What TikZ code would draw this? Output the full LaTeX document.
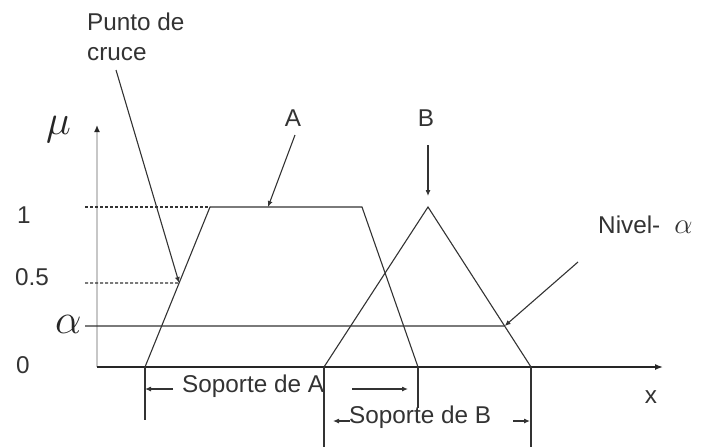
\documentclass[tikz,border=0pt]{standalone}
\usepackage{fix-cm}
\usepackage{fontspec}
\setmainfont{Liberation Sans}
\usetikzlibrary{arrows.meta,calc}
\begin{document}
\begin{tikzpicture}[x=1pt,y=-1pt,
  lbl/.style={font=\fontsize{24.3}{29.5}\selectfont, text=black!80, inner sep=0pt},
  sym/.style={font=\fontsize{42}{42}\selectfont, text=black!85, inner sep=0pt},
  ln/.style={draw=black!80, line width=1.1pt},
  arr/.style={ln, -{Latex[length=6pt,width=5pt]}},
  dsh/.style={ln, dash pattern=on 3pt off 2pt},
  yax/.style={draw=black!22, line width=2pt, -{Latex[length=7pt,width=6pt,color=black!85]}},
  xax/.style={draw=black!85, line width=1.5pt, -{Latex[length=8pt,width=6pt]}}
]
\useasboundingbox (0,0) rectangle (701,447);
% key points
\coordinate (O) at (97,367);
\coordinate (Ytop) at (97,125);
\coordinate (Xend) at (663,367);
\coordinate (Abl) at (145,367);
\coordinate (Atl) at (210,207);
\coordinate (Atr) at (362,207);
\coordinate (Abr) at (418,367);
\coordinate (Bbl) at (324,367);
\coordinate (Bt) at (428,207);
\coordinate (Bbr) at (531,367);
\coordinate (Y1) at (85,207);
\coordinate (Y05) at (85,283);
\coordinate (Ya) at (85,326);
\coordinate (Half) at ($(Abl)!0.525!(Atl)$);
\coordinate (AlEnd) at ($(Bt)!0.744!(Bbr)$);
\coordinate (Atop) at (268,207);
\coordinate (Bhead) at (428,196);
% axes
\draw[yax] (O) -- (Ytop);
\draw[xax] (O) -- (Xend);
% dashed guides
\draw[dsh] (Y1) -- (Atl);
\draw[dsh] (Y05) -- (Half);
% alpha level
\draw[ln] (Ya) -- (AlEnd);
% fuzzy sets
\draw[ln] (Abl) -- (Atl) -- (Atr) -- (Abr);
\draw[ln] (Bbl) -- (Bt) -- (Bbr);
% labels
\node[lbl, align=left, anchor=north west] (punto) at (87,13) {Punto de\\cruce};
\coordinate (Ps) at (116,70);
\draw[arr] (Ps) -- (Half);
\node[lbl, anchor=base] (la) at (293,126) {A};
\coordinate (As) at (295,135);
\draw[arr] (As) -- (Atop);
\node[lbl, anchor=base] (lb) at (426,126) {B};
\coordinate (Bs) at (428,145);
\draw[arr] (Bs) -- (Bhead);
\node[lbl, anchor=base west] (niv) at (598,233) {Nivel-\hspace{14pt}{\fontsize{29}{29}\selectfont$\alpha$}};
\coordinate (Ns) at (578,262);
\draw[arr] (Ns) -- (AlEnd);
% axis labels
\node[sym, anchor=base west] (mu) at (46,134) {$\mu$};
\node[sym, anchor=base west] (al) at (55,333) {$\alpha$};
\node[lbl, anchor=base west] (one) at (17,223) {1};
\node[lbl, anchor=base west] (half) at (15,285) {0.5};
\node[lbl, anchor=base west] (zero) at (16,373) {0};
\node[lbl, anchor=base] (xl) at (651,403) {x};
% supports
\coordinate (Atick) at (145,420);
\coordinate (Aline) at (418,408);
\coordinate (Bl) at (324,447);
\coordinate (Br) at (531,447);
\draw[ln] (Abl) -- (Atick);
\draw[ln] (Abr) -- (Aline);
\draw[ln] (Bbl) -- (Bl);
\draw[ln] (Bbr) -- (Br);
\node[lbl, anchor=base west] (sa) at (182,392) {Soporte de A};
\node[lbl, anchor=base west] (sb) at (349,423) {Soporte de B};
\coordinate (sa1) at (173,389);
\coordinate (sa2) at (145,389);
\coordinate (sa3) at (352,389);
\coordinate (sa4) at (408,389);
\coordinate (sb1) at (350,421);
\coordinate (sb2) at (333,421);
\coordinate (sb3) at (513,421);
\coordinate (sb4) at (530,421);
\draw[arr] (sa1) -- (sa2);
\draw[arr] (sa3) -- (sa4);
\draw[arr] (sb1) -- (sb2);
\draw[arr] (sb3) -- (sb4);
\end{tikzpicture}
\end{document}
